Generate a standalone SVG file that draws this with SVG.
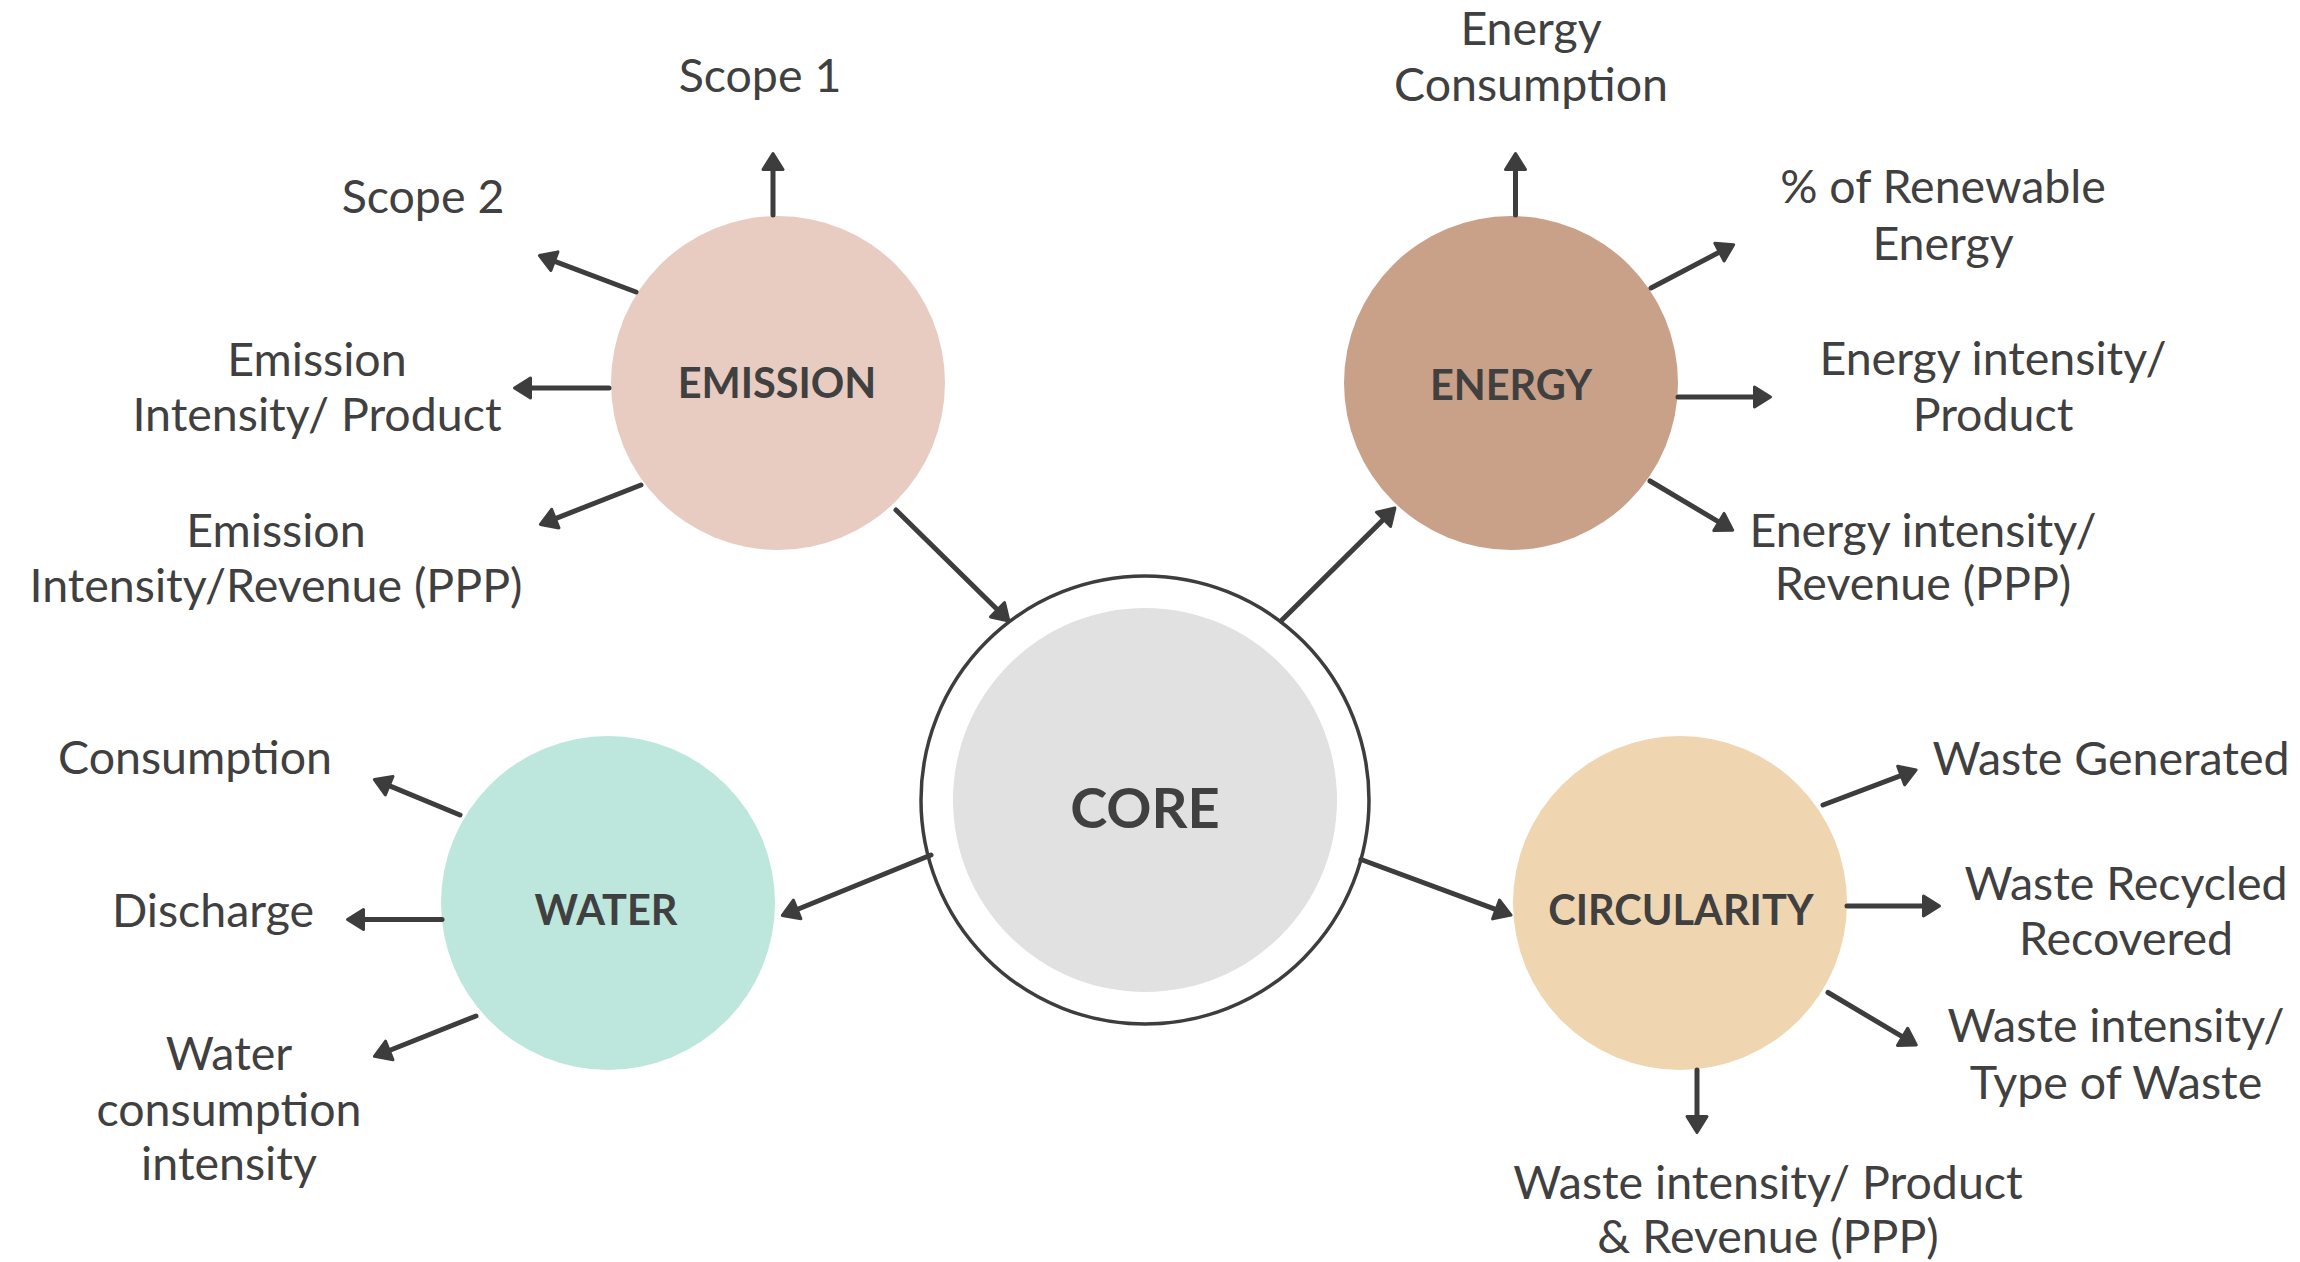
<svg xmlns="http://www.w3.org/2000/svg" width="2300" height="1262" viewBox="0 0 2300 1262">
<defs>
<marker id="ah" markerUnits="userSpaceOnUse" viewBox="-4 -14 28 28" markerWidth="28" markerHeight="28" refX="6" refY="0" orient="auto">
<path d="M0,-10 L16,0 L0,10 Z" fill="#3d3d3d" stroke="#3d3d3d" stroke-width="3" stroke-linejoin="round"/>
</marker>
<style>
.lbl{font-family:Lato,"Liberation Sans",sans-serif;font-size:46.5px;fill:#404040;text-anchor:middle}
.nl{font-family:Lato,"Liberation Sans",sans-serif;font-weight:bold;font-size:41.5px;fill:#404040;text-anchor:middle}
.core{font-size:56px}
.conn line{stroke:#3d3d3d;stroke-width:5;stroke-linecap:round;marker-end:url(#ah)}
</style>
</defs>
<rect width="2300" height="1262" fill="#ffffff"/>
<g id="core">
<circle cx="1145" cy="800" r="224" fill="#ffffff" stroke="#3d3d3d" stroke-width="3.5"/>
<circle cx="1145" cy="800" r="192" fill="#e1e1e1"/>
<text class="nl core" x="1145" y="828">CORE</text>
</g>
<g id="emission">
<circle cx="778" cy="383" r="167" fill="#e8ccc1"/>
<text class="nl" x="777" y="398">EMISSION</text>
</g>
<g id="energy">
<circle cx="1511" cy="383" r="167" fill="#c9a088"/>
<text class="nl" x="1511" y="400">ENERGY</text>
</g>
<g id="water">
<circle cx="608" cy="903" r="167" fill="#bde6dc"/>
<text class="nl" x="606" y="925">WATER</text>
</g>
<g id="circularity">
<circle cx="1680" cy="903" r="167" fill="#efd5b0"/>
<text class="nl" x="1681" y="925">CIRCULARITY</text>
</g>
<g id="connectors" class="conn">
<line x1="773" y1="215" x2="773" y2="163.5"/>
<line x1="636" y1="292" x2="548.8" y2="259.1"/>
<line x1="609" y1="388" x2="524.5" y2="388"/>
<line x1="641" y1="485" x2="549.7" y2="520.8"/>
<line x1="896" y1="510" x2="1001.8" y2="614"/>
<line x1="1281" y1="621" x2="1387.8" y2="515.1"/>
<line x1="1515.5" y1="215" x2="1515.5" y2="163.5"/>
<line x1="1651" y1="288" x2="1724.8" y2="249.3"/>
<line x1="1678" y1="397" x2="1760.5" y2="397"/>
<line x1="1650" y1="481" x2="1724.1" y2="525.1"/>
<line x1="931" y1="855" x2="791.6" y2="911.7"/>
<line x1="460" y1="815" x2="383.6" y2="783.4"/>
<line x1="442" y1="919.5" x2="357.5" y2="919.5"/>
<line x1="476" y1="1016" x2="383.7" y2="1052.7"/>
<line x1="1361" y1="859.5" x2="1501.7" y2="911.6"/>
<line x1="1823" y1="805" x2="1906.8" y2="773.4"/>
<line x1="1847" y1="906" x2="1929.5" y2="906"/>
<line x1="1828" y1="992.5" x2="1907.7" y2="1039.9"/>
<line x1="1697" y1="1070" x2="1697" y2="1122.5"/>
</g>
<g id="labels">
<text class="lbl" x="760" y="92">Scope 1</text>
<text class="lbl" x="423" y="213">Scope 2</text>
<text class="lbl" x="317" y="376">Emission</text>
<text class="lbl" x="317" y="431">Intensity/ Product</text>
<text class="lbl" x="276" y="547">Emission</text>
<text class="lbl" x="276" y="602">Intensity/Revenue (PPP)</text>
<text class="lbl" x="1531" y="45">Energy</text>
<text class="lbl" x="1531" y="101">Consumption</text>
<text class="lbl" x="1943" y="203">% of Renewable</text>
<text class="lbl" x="1943" y="260">Energy</text>
<text class="lbl" x="1993" y="375">Energy intensity/</text>
<text class="lbl" x="1993" y="431">Product</text>
<text class="lbl" x="1923" y="547">Energy intensity/</text>
<text class="lbl" x="1923" y="600">Revenue (PPP)</text>
<text class="lbl" x="195" y="774">Consumption</text>
<text class="lbl" x="213" y="927">Discharge</text>
<text class="lbl" x="229" y="1070">Water</text>
<text class="lbl" x="229" y="1126">consumption</text>
<text class="lbl" x="229" y="1180">intensity</text>
<text class="lbl" x="2111" y="775">Waste Generated</text>
<text class="lbl" x="2126" y="900">Waste Recycled</text>
<text class="lbl" x="2126" y="955">Recovered</text>
<text class="lbl" x="2116" y="1042">Waste intensity/</text>
<text class="lbl" x="2116" y="1099">Type of Waste</text>
<text class="lbl" x="1768" y="1199">Waste intensity/ Product</text>
<text class="lbl" x="1768" y="1253">&amp; Revenue (PPP)</text>
</g>
</svg>
